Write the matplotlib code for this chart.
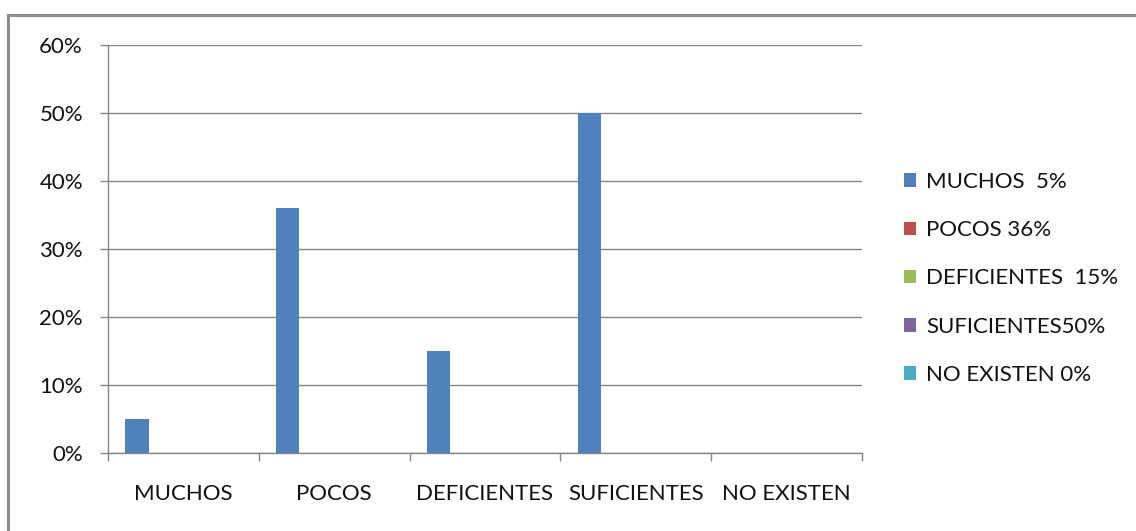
import matplotlib
matplotlib.use("Agg")
from matplotlib import pyplot as plt
from matplotlib.patches import Rectangle, Patch
import numpy as np

categories = ['MUCHOS', 'POCOS', 'DEFICIENTES', 'SUFICIENTES', 'NO EXISTEN']
series_names = ['MUCHOS  5%', 'POCOS 36%', 'DEFICIENTES  15%', 'SUFICIENTES50%', 'NO EXISTEN 0%']
series_values = [
    [0.05, 0.36, 0.15, 0.50, 0.0],
    [0, 0, 0, 0, 0],
    [0, 0, 0, 0, 0],
    [0, 0, 0, 0, 0],
    [0, 0, 0, 0, 0],
]
colors = ['#4F81BD', '#C0504D', '#9BBB59', '#8064A2', '#4BACC6']
yticks = [0, 0.1, 0.2, 0.3, 0.4, 0.5, 0.6]

plt.rcParams['font.family'] = ['Lato', 'DejaVu Sans']
grid_col = '#868686'
fs = 16
txt_col = '#111111'

fig = plt.figure(figsize=(11.36, 5.31), dpi=100)
W, H = 1136, 531
# outer chart border
fig.patches.append(Rectangle((8 / W, -0.1), 1.2, 1 - 15 / H + 0.1, transform=fig.transFigure,
                             fill=False, edgecolor='#8c8c8c', linewidth=2.2))

ax = fig.add_axes([108 / W, 1 - 453 / H, (862 - 108) / W, (453 - 45) / H])

x = np.arange(len(categories))
nser = len(series_values)
bw = 1 / (nser + 1.5)
for j, vals in enumerate(series_values):
    pos = x - 0.5 + (0.75 + j + 0.5) * bw
    ax.bar(pos, vals, width=bw, color=colors[j], linewidth=0, zorder=3)

ax.set_xlim(-0.5, len(categories) - 0.5)
ax.set_ylim(0, 0.6)
ax.set_yticks(yticks)
ax.set_yticklabels([f'{int(round(v * 100))}%' for v in yticks], fontsize=fs, color=txt_col)
ax.yaxis.grid(True, color=grid_col, linewidth=1)
ax.set_axisbelow(True)

ax.set_xticks(np.arange(-0.5, len(categories)), minor=False)
ax.set_xticklabels([])
ax.set_xticks(x, minor=True)
ax.set_xticklabels(categories, minor=True, fontsize=fs, color=txt_col)
ax.tick_params(axis='x', which='major', length=6, color=grid_col, width=1)
ax.tick_params(axis='x', which='minor', length=0, pad=22)
ax.tick_params(axis='y', length=6, color=grid_col, width=1, pad=12)

for s in ['top', 'right']:
    ax.spines[s].set_visible(False)
for s in ['left', 'bottom']:
    ax.spines[s].set_color(grid_col)
    ax.spines[s].set_linewidth(1)

handles = [Patch(facecolor=c, edgecolor='none') for c in colors]
leg = fig.legend(handles, series_names, loc='upper left', bbox_to_anchor=(904 / W, 1 - 172 / H),
                 frameon=False, fontsize=fs, labelspacing=1.27, handlelength=0.55,
                 handleheight=0.55, handletextpad=0.45, borderaxespad=0, borderpad=0)
for t in leg.get_texts():
    t.set_color(txt_col)

fig.savefig('out.png', dpi=100, facecolor='white')
